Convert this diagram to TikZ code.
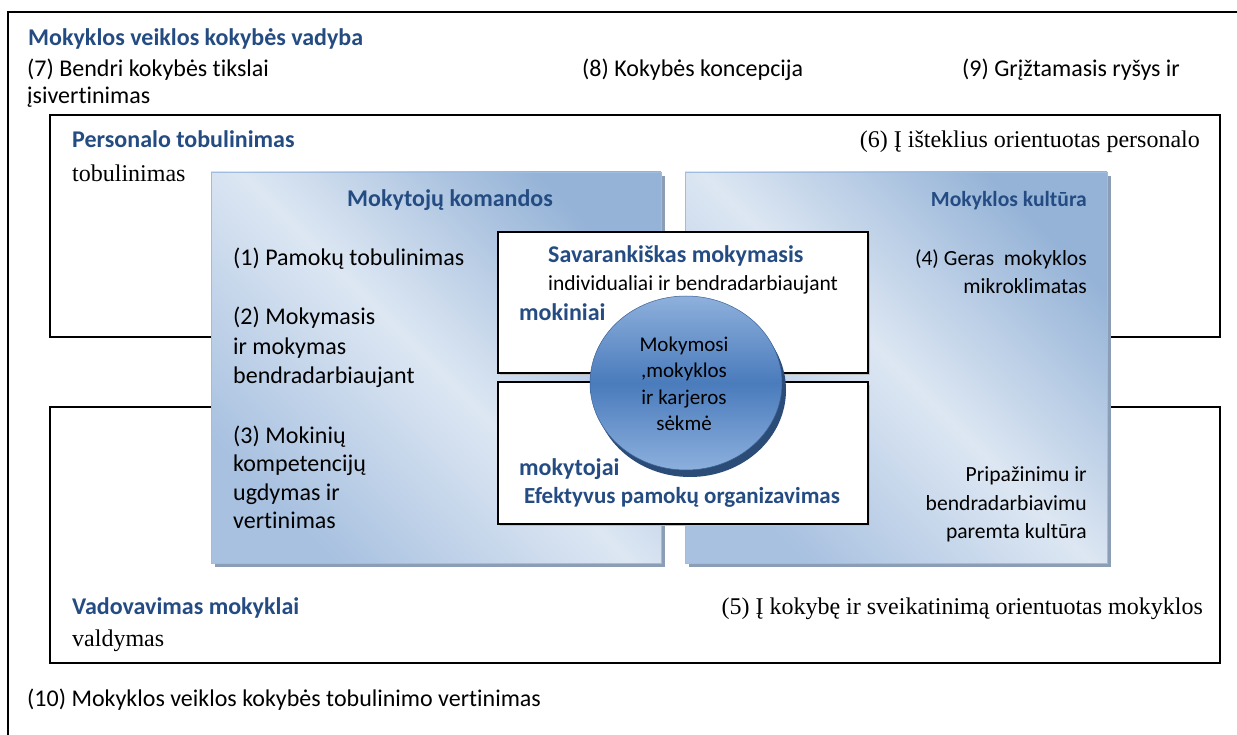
\documentclass[tikz,border=0pt]{standalone}
\usepackage{fontspec}
\setmainfont{Carlito}[Ligatures=NoCommon]
\newfontfamily\serif{Liberation Serif}
\definecolor{hdblue}{RGB}{36,76,130}
\definecolor{pdark}{RGB}{149,179,215}
\definecolor{pmid}{RGB}{168,193,224}
\definecolor{plight}{RGB}{221,231,243}
\definecolor{pborder}{RGB}{160,188,222}
\definecolor{pshadow}{RGB}{140,158,182}
\definecolor{ctop}{RGB}{142,176,220}
\definecolor{cmid}{RGB}{74,123,188}
\definecolor{cbot}{RGB}{140,176,221}
\definecolor{crim}{RGB}{44,76,120}
\begin{document}
\begin{tikzpicture}[x=1pt,y=-1pt,
  frame/.style={draw=black, line width=1.5pt},
  panel/.style={draw=pborder, line width=0.8pt, top color=pdark, bottom color=pmid, middle color=plight, shading angle=-45},
  pshad/.style={fill=pshadow},
  wbox/.style={draw=black, line width=1.5pt, fill=white},
  body/.style={inner sep=0pt, font=\fontsize{24}{28}\selectfont},
  rbody/.style={inner sep=0pt, font=\fontsize{21.6}{26}\selectfont},
  hd/.style={inner sep=0pt, font=\fontsize{24}{28}\selectfont\bfseries, text=hdblue},
  rhd/.style={inner sep=0pt, font=\fontsize{21.6}{26}\selectfont\bfseries, text=hdblue},
  ehd/.style={inner sep=0pt, font=\fontsize{23}{26}\selectfont\bfseries, text=hdblue},
  ser/.style={inner sep=0pt, font=\serif\fontsize{24}{28}\selectfont},
  mid/.style={inner sep=0pt, font=\fontsize{21.5}{26}\selectfont},
  small/.style={inner sep=0pt, font=\fontsize{21}{25}\selectfont}
]
\useasboundingbox (0,0) rectangle (1237,735);
% outer frame
\draw[frame] (1237,12) -- (8,12) -- (8,735);
% top texts
\node[hd, anchor=base west] (title) at (28,46) {Mokyklos veiklos kokybės vadyba};
\node[body, anchor=base west] (t7a) at (27,77) {(7) Bendri kokybės tikslai};
\node[body, anchor=base west] (t7b) at (27,104) {įsivertinimas};
\node[body, anchor=base west] (t8) at (582,77) {(8) Kokybės koncepcija};
\node[body, anchor=base west] (t9) at (962,77) {(9) Grįžtamasis ryšys ir};
% inner boxes
\draw[frame] (50,115) rectangle (1220,337);
\draw[frame] (50,407) rectangle (1220,663);
\node[hd, anchor=base west] (pt) at (72,148) {Personalo tobulinimas};
\node[ser, anchor=base west] (ptb) at (72,182) {tobulinimas};
\node[ser, anchor=base east] (t6) at (1200,148) {(6) Į išteklius orientuotas personalo};
\node[hd, anchor=base west] (vm) at (72,614) {Vadovavimas mokyklai};
\node[ser, anchor=base west] (vd) at (72,646) {valdymas};
\node[ser, anchor=base east] (t5) at (1203,614) {(5) Į kokybę ir sveikatinimą orientuotas mokyklos};
\node[body, anchor=base west] (t10) at (27,706) {(10) Mokyklos veiklos kokybės tobulinimo vertinimas};
% panels
\fill[pshad] (215,176) rectangle (665,567);
\fill[pshad] (689,176) rectangle (1111,567);
\path[panel] (211,172) rectangle (661,563);
\path[panel] (685,172) rectangle (1107,563);
% left panel text
\node[hd, anchor=base] (mk) at (450,207) {Mokytojų komandos};
\node[body, anchor=base west] (l1) at (233,266) {(1) Pamokų tobulinimas};
\node[body, anchor=base west] (l2a) at (233,324) {(2) Mokymasis};
\node[body, anchor=base west] (l2b) at (233,354) {ir mokymas};
\node[body, anchor=base west] (l2c) at (233,383) {bendradarbiaujant};
\node[body, anchor=base west] (l3a) at (233,443) {(3) Mokinių};
\node[body, anchor=base west] (l3b) at (233,471) {kompetencijų};
\node[body, anchor=base west] (l3c) at (233,500) {ugdymas ir};
\node[body, anchor=base west] (l3d) at (233,528) {vertinimas};
% right panel text
\node[rhd, anchor=base east] (kult) at (1087,207) {Mokyklos kultūra};
\node[rbody, anchor=base east] (r4a) at (1087,266) {(4) Geras\ \ mokyklos};
\node[rbody, anchor=base east] (r4b) at (1087,294) {mikroklimatas};
\node[rbody, anchor=base east] (rpa) at (1087,481) {Pripažinimu ir};
\node[rbody, anchor=base east] (rpb) at (1087,510) {bendradarbiavimu};
\node[rbody, anchor=base east] (rpc) at (1087,538) {paremta kultūra};
% center boxes
\fill[black!25] (500,234) rectangle (870,375);
\fill[black!25] (500,385) rectangle (870,526);
\draw[wbox] (498,232) rectangle (868,373);
\draw[wbox] (498,382) rectangle (868,524);
\node[hd, anchor=base west] (sav) at (548,263) {Savarankiškas mokymasis};
\node[mid, anchor=base west] (ind) at (548,291) {individualiai ir bendradarbiaujant};
\node[hd, anchor=base west] (mok) at (519,320) {mokiniai};
\node[hd, anchor=base west] (mkt) at (519,475) {mokytojai};
\node[ehd, anchor=base west] (efk) at (524,503) {Efektyvus pamokų organizavimas};
% circle
\fill[crim] (690,390) ellipse (96 and 87);
\shade[top color=ctop, bottom color=cbot, middle color=cmid, draw=cmid!80!black, line width=0.5pt] (686,383) ellipse (96 and 87);
\node[small, anchor=base] (c1) at (684,352) {Mokymosi};
\node[small, anchor=base] (c2) at (684,377) {,mokyklos};
\node[small, anchor=base] (c3) at (684,404) {ir karjeros};
\node[small, anchor=base] (c4) at (684,430) {sėkmė};
\end{tikzpicture}
\end{document}
